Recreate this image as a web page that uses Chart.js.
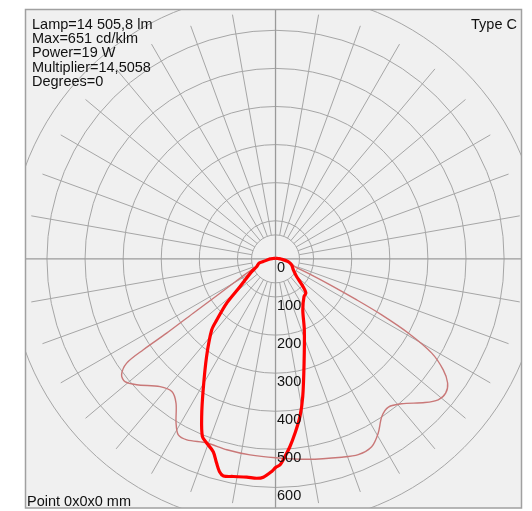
<!DOCTYPE html>
<html><head><meta charset="utf-8">
<style>html,body{margin:0;padding:0;background:#fff;}canvas{display:block;}</style>
<script src="https://cdn.jsdelivr.net/npm/chart.js@4/dist/chart.umd.min.js"></script>
</head><body>
<canvas id="c" width="532" height="511"></canvas>
<script>
const headerLines = ["Lamp=14 505,8 lm", "Max=651 cd/klm", "Power=19 W", "Multiplier=14,5058", "Degrees=0"];
const typeLabel = "Type C";
const pointLabel = "Point 0x0x0 mm";
const tickValues = [0, 100, 200, 300, 400, 500, 600];
const tickLabels = ["0", "100", "200", "300", "400", "500", "600"];
const ringValues = [100, 200, 300, 400, 500, 600, 700];
const maxValue = 651;
const innerValue = 63;
const spokeStep = 10;

// C0-C180 plane (thick red): angle from nadir (deg), intensity cd/klm
const planeA_angles = [-180, -150, -120, -100, -90, -77.5, -75.4, -67.7, -61.9, -52, -47.8, -43.9, -41.9, -35.2, -28.9, -25.1, -22.4, -20.5, -17.9, -16.1, -14.8, -13.5, -11, -7.5, -4.9, -3.2, -1, 0, 1.25, 2.2, 4.4, 6.4, 8.8, 11.2, 15.3, 22.1, 28.1, 37.1, 41.6, 43.8, 46.4, 50.1, 58.3, 69.7, 78, 87, 100, 120, 150, 180];
const planeA_values = [2, 2, 3, 6, 14, 33, 45, 53, 71, 118, 173, 222, 251, 314, 393, 457, 504, 516, 532, 558, 577, 586, 582, 578, 578, 574, 558, 548, 541, 528, 494, 460, 419, 368, 284, 201, 152, 124, 120, 109, 92, 72, 55, 45, 34, 16, 6, 3, 2, 2];

// C90-C270 plane (thin)
const planeB_angles = [-180, -120, -90, -76, -68, -62, -58, -56.6, -55.7, -55.5, -55, -53, -50.8, -47.8, -42.1, -38, -34.6, -31.2, -28.9, -26.1, -20.5, -14.3, -7.4, 0, 9.3, 18.5, 22.9, 27.1, 30.5, 34, 37.3, 41, 46.1, 49.1, 51.7, 54.2, 56.5, 58.9, 60.8, 62.2, 63.2, 64.5, 66, 68, 76, 87, 120, 180];
const planeB_values = [2, 3, 14, 44, 57, 100, 180, 259, 346, 421, 477, 506, 510, 492, 452, 442, 460, 504, 528, 529, 516, 517, 519, 522, 533, 549, 558, 554, 531, 499, 489, 504, 544, 565, 569, 557, 528, 479, 400, 315, 239, 160, 100, 55, 38, 16, 3, 2];

function toXY(angles, values) {
  return angles.map((a, i) => {
    const t = a * Math.PI / 180;
    return { x: values[i] * Math.sin(t), y: -values[i] * Math.cos(t) };
  });
}

const FONT = '14.5px "Liberation Sans", Arial, sans-serif';

const gridPlugin = {
  id: 'polarGrid',
  beforeDatasetsDraw(chart) {
    const { ctx, chartArea: ca, scales: { x, y } } = chart;
    const cx = x.getPixelForValue(0), cy = y.getPixelForValue(0);
    const rp = v => x.getPixelForValue(v) - cx;
    ctx.save();
    ctx.fillStyle = '#f0f0f0';
    ctx.fillRect(ca.left, ca.top, ca.right - ca.left, ca.bottom - ca.top);
    ctx.beginPath();
    ctx.rect(ca.left, ca.top, ca.right - ca.left, ca.bottom - ca.top);
    ctx.clip();
    ctx.strokeStyle = '#a6a6a6';
    ctx.lineWidth = 1;
    ringValues.concat([innerValue]).forEach(v => {
      ctx.beginPath();
      ctx.arc(cx, cy, rp(v), 0, 2 * Math.PI);
      ctx.stroke();
    });
    for (let a = 0; a < 360; a += spokeStep) {
      if (a % 90 === 0) continue;
      const t = a * Math.PI / 180;
      const r0 = rp(innerValue), r1 = rp(maxValue);
      ctx.beginPath();
      ctx.moveTo(cx + r0 * Math.sin(t), cy + r0 * Math.cos(t));
      ctx.lineTo(cx + r1 * Math.sin(t), cy + r1 * Math.cos(t));
      ctx.stroke();
    }
    ctx.strokeStyle = '#9a9a9a';
    ctx.lineWidth = 1.3;
    ctx.beginPath();
    ctx.moveTo(ca.left, cy); ctx.lineTo(ca.right, cy);
    ctx.moveTo(cx, ca.top); ctx.lineTo(cx, ca.bottom);
    ctx.stroke();
    ctx.restore();
  },
  afterDatasetsDraw(chart) {
    const { ctx, chartArea: ca, scales: { x, y } } = chart;
    const cx = x.getPixelForValue(0);
    ctx.save();
    ctx.font = FONT;
    ctx.fillStyle = '#111';
    ctx.textAlign = 'left';
    ctx.textBaseline = 'alphabetic';
    tickValues.forEach((v, i) => {
      const py = y.getPixelForValue(-v);
      ctx.fillText(tickLabels[i], cx + 1.5, py + 12.7);
    });
    headerLines.forEach((s, i) => ctx.fillText(s, ca.left + 6, 28.5 + i * 14.4));
    ctx.fillText(pointLabel, ca.left + 1, 506);
    ctx.textAlign = 'right';
    ctx.fillText(typeLabel, ca.right - 5, 28.5);
    ctx.strokeStyle = '#a0a0a0';
    ctx.lineWidth = 1.5;
    ctx.strokeRect(ca.left - 0.5, ca.top + 0.5, ca.right - ca.left, ca.bottom - ca.top - 0.5);
    ctx.restore();
  }
};

new Chart(document.getElementById('c'), {
  type: 'scatter',
  data: {
    datasets: [
      {
        label: 'C0-C180',
        data: toXY(planeA_angles, planeA_values),
        showLine: true, borderColor: '#ff0000', borderWidth: 3.2,
        pointRadius: 0, tension: 0.3, fill: false
      },
      {
        label: 'C90-C270',
        data: toXY(planeB_angles, planeB_values),
        showLine: true, borderColor: '#c97878', borderWidth: 1.4,
        pointRadius: 0, tension: 0.3, fill: false
      }
    ]
  },
  options: {
    responsive: false,
    animation: false,
    devicePixelRatio: 1,
    layout: { padding: { left: 26, right: 10, top: 9, bottom: 3 } },
    plugins: { legend: { display: false }, tooltip: { enabled: false } },
    scales: {
      x: { type: 'linear', min: -655, max: 647, display: false },
      y: { type: 'linear', min: -654, max: 656, display: false }
    }
  },
  plugins: [gridPlugin]
});
</script>
</body></html>
